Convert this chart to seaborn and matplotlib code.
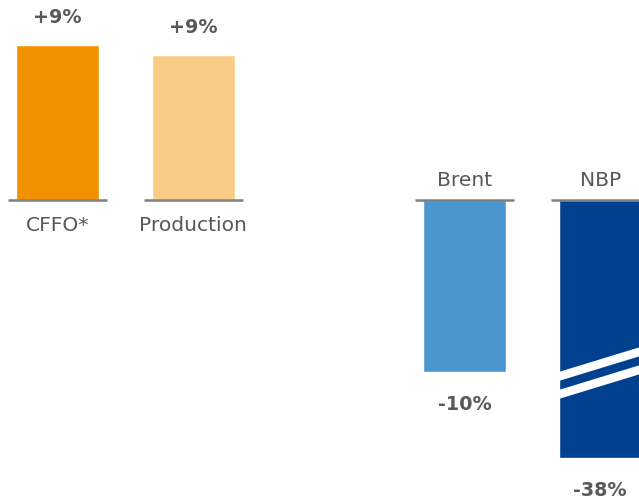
import numpy as np
import pandas as pd
import matplotlib
matplotlib.use("Agg")
import matplotlib.pyplot as plt
import seaborn as sns
from matplotlib.lines import Line2D
from matplotlib.transforms import IdentityTransform

# Year-on-year change, %
categories = ["CFFO*", "Production", "Brent", "NBP"]
changes = [9.4, 8.8, -10.4, -38.0]
slots = [0, 1, 3, 4]
colors = ["#F39200", "#F9CC85", "#4B96CF", "#00418F"]

# Broken value axis: linear down to BREAK, compressed below it
BREAK = -11.0
SQUEEZE = 0.172


def fwd(y):
    y = np.asarray(y, dtype=float)
    return np.where(y >= BREAK, y, BREAK + (y - BREAK) * SQUEEZE)


def inv(y):
    y = np.asarray(y, dtype=float)
    return np.where(y >= BREAK, y, BREAK + (y - BREAK) / SQUEEZE)


sns.set_theme(style="white")
plt.rcParams["font.family"] = ["DejaVu Sans"]

TEXT = "#595959"
RULE = "#7f7f7f"
BAR_W = 0.6118
RULE_EXT = 0.059

fig = plt.figure(figsize=(6.39, 5.0), dpi=100)
ax = fig.add_axes([0, 0, 1, 1])

df = pd.DataFrame({"slot": slots, "change": changes, "category": categories})
sns.barplot(
    data=df, x="slot", y="change", hue="category",
    palette=dict(zip(categories, colors)), native_scale=True,
    width=BAR_W, dodge=False, legend=False, saturation=1,
    errorbar=None, ax=ax,
)

ax.set_yscale("function", functions=(fwd, inv))
ax.set_xlim(-0.4238, 4.286)
ax.set_ylim(float(inv(-18.182)), 12.121)
ax.axis("off")

for s, cat, v in zip(slots, categories, changes):
    # short zero rule under each bar
    ax.hlines(0, s - BAR_W / 2 - RULE_EXT, s + BAR_W / 2 + RULE_EXT,
              color=RULE, lw=1.8, zorder=3)
    if v >= 0:
        ax.annotate(f"{v:+.0f}%", xy=(s, v), xytext=(0, 19.5),
                    textcoords="offset points", ha="center", va="center",
                    fontsize=13.8, fontweight="bold", color=TEXT)
        ax.annotate(cat, xy=(s, 0), xytext=(0, -18.5),
                    textcoords="offset points", ha="center", va="center",
                    fontsize=14.6, color=TEXT)
    else:
        ax.annotate(f"{v:+.0f}%", xy=(s, v), xytext=(0, -23.5),
                    textcoords="offset points", ha="center", va="center",
                    fontsize=13.8, fontweight="bold", color=TEXT)
        ax.annotate(cat, xy=(s, 0), xytext=(0, 14),
                    textcoords="offset points", ha="center", va="center",
                    fontsize=14.6, color=TEXT)

# Break marks across the truncated bar
broken = min(ax.patches, key=lambda p: p.get_height())
x_left = slots[changes.index(min(changes))] - BAR_W / 2
px, py = ax.transData.transform((x_left, BREAK))
slope = 0.306
for dy in (5, -13):
    xs = np.array([px - 20, px + 160])
    ys = py + dy + (xs - px) * slope
    ln = Line2D(xs, ys, transform=IdentityTransform(), color="white",
                lw=6.2, solid_capstyle="butt", zorder=4)
    ln.set_clip_path(broken)
    ax.add_line(ln)

fig.savefig("out.png", dpi=100)
